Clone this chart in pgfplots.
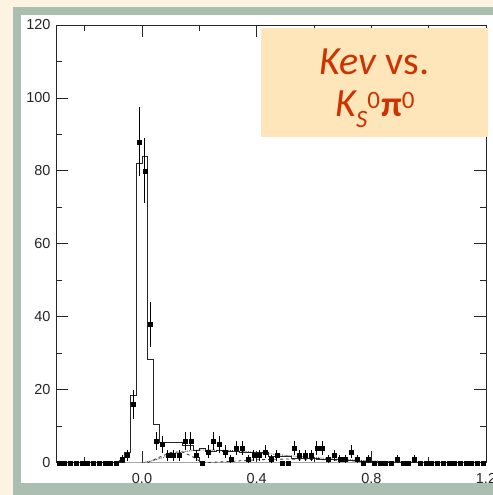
\documentclass[border=0pt]{standalone}
\usepackage{pgfplots}
\usepackage{pgfplotstable}
\pgfplotsset{compat=1.18}
\usepackage{fontspec}
\setmainfont{Liberation Sans}
\newfontfamily\titlefont{Carlito}

\definecolor{cream}{HTML}{FDF3E2}
\definecolor{framegreen}{HTML}{AABFAF}
\definecolor{boxorange}{HTML}{FFE6BA}
\definecolor{titlered}{HTML}{CC3300}

% measured yields per 0.02 bin: centre, count, error
\pgfplotstableread{
x y e
-0.29 0 0
-0.27 0 0
-0.25 0 0
-0.23 0 0
-0.21 0 0
-0.19 0 0
-0.17 0 0
-0.15 0 0
-0.13 0 0
-0.11 0 0
-0.09 0 0
-0.07 1 1
-0.05 2 1.41
-0.03 16 4
-0.01 88 9.38
0.01 80 8.94
0.03 38 6.16
0.05 6 2.45
0.07 5 2.24
0.09 2 1.41
0.11 2 1.41
0.13 2 1.41
0.15 6 2.45
0.17 6 2.45
0.19 2 1.41
0.21 0 0
0.23 3 1.73
0.25 6 2.45
0.27 5 2.24
0.29 3 1.73
0.31 1 1
0.33 4 2
0.35 4 2
0.37 1 1
0.39 2 1.41
0.41 2 1.41
0.43 3 1.73
0.45 1 1
0.47 2 1.41
0.49 0 0
0.51 0 0
0.53 4 2
0.55 2 1.41
0.57 2 1.41
0.59 2 1.41
0.61 4 2
0.63 4 2
0.65 1 1
0.67 2 1.41
0.69 1 1
0.71 1 1
0.73 3 1.73
0.75 1 1
0.77 0 0
0.79 1 1
0.81 0 0
0.83 0 0
0.85 0 0
0.87 0 0
0.89 1 1
0.91 0 0
0.93 0 0
0.95 1 1
0.97 0 0
0.99 0 0
1.01 0 0
1.03 0 0
1.05 0 0
1.07 0 0
1.09 0 0
1.11 0 0
1.13 0 0
1.15 0 0
1.17 0 0
1.19 0 0
}\datatable

% total fit, value per bin (left edge)
\pgfplotstableread{
x y
-0.30 0
-0.08 0.5
-0.06 2.7
-0.04 18.4
-0.02 82
0.00 84
0.02 28.4
0.04 10.5
0.06 5.5
0.08 5.5
0.10 5.5
0.12 5.5
0.14 4.8
0.16 4.8
0.18 3.5
0.20 3.9
0.22 3.0
0.24 3.0
0.26 3.5
0.28 3.2
0.30 3.0
0.32 3.0
0.34 2.8
0.36 2.8
0.38 2.7
0.40 2.7
0.42 2.7
0.44 1.8
0.46 1.8
0.48 1.8
0.50 1.8
0.52 1.2
0.54 1.2
0.56 1.2
0.58 1.2
0.60 1.2
0.62 0.8
0.64 0.8
0.66 0.8
0.68 0.8
0.70 0.6
0.72 0.6
0.74 0.6
0.76 0.3
0.78 0.3
0.80 0.2
0.90 0.2
1.00 0
1.20 0
}\fittable

\begin{document}
\begin{tikzpicture}[x=1bp,y=1bp]
\useasboundingbox (0,0) rectangle (493,495);
\fill[cream] (0,0) rectangle (493,495);
\fill[framegreen] (12.7,0) rectangle (493,488.3);
\fill[white] (20.7,12.3) rectangle (493,480);
\begin{axis}[
  at={(56bp,32.3bp)}, anchor=south west,
  scale only axis, width=430bp, height=437.7bp,
  xmin=-0.3, xmax=1.2, ymin=0, ymax=120,
  xtick={0,0.4,0.8,1.2}, minor xtick={-0.2,0.2,0.6,1.0},
  ytick={0,20,...,120}, minor ytick={10,30,...,110},
  x tick label style={/pgf/number format/fixed, /pgf/number format/fixed zerofill,
    /pgf/number format/precision=1, yshift=-7bp},
  y tick label style={xshift=-2bp},
  tick align=inside, major tick length=12bp, minor tick length=6bp,
  axis line style={black!85, line width=0.8bp},
  tick style={black!85, line width=0.8bp},
  tick label style={font=\fontsize{14.5bp}{17bp}\selectfont, text=black!85},
  /pgf/number format/assume math mode=true,
]
% component shapes
\addplot[gray!70, line width=1.2bp] coordinates {(-0.06,0.15) (0.78,0.15)};
\addplot[black!80, densely dotted, line width=0.8bp] coordinates {
  (0.0,0) (0.04,0.6) (0.08,1.6) (0.12,2.5) (0.16,3.2) (0.20,3.5) (0.30,3.4)
  (0.40,2.8) (0.50,2.0) (0.60,1.4) (0.70,0.9) (0.80,0.5) (0.90,0.2) (1.0,0.05) (1.2,0)};
\addplot[black!80, dashed, line width=0.8bp] coordinates {
  (0.02,0) (0.06,1.5) (0.10,2.8) (0.14,3.0) (0.18,1.5) (0.21,0) (0.30,0.3)
  (0.40,0.8) (0.50,1.0) (0.60,0.9) (0.70,0.6) (0.80,0.3) (0.90,0.1) (1.0,0)};
% total fit
\addplot[const plot, black!85, line width=0.8bp] table[x=x, y=y] {\fittable};
% data
\addplot[only marks, mark=square*, mark size=2bp, black,
  error bars/.cd, y dir=both, y explicit, error mark=none,
  error bar style={line width=0.8bp, black}]
  table[x=x, y=y, y error=e] {\datatable};
\end{axis}
\fill[boxorange] (261,358) rectangle (488,467);
\node[anchor=base, text=titlered, font=\titlefont\fontsize{40bp}{44bp}\selectfont, inner sep=0]
  at (374.5,420) {{\itshape Kev} vs.};
\node[anchor=base, text=titlered, font=\titlefont\fontsize{40bp}{44bp}\selectfont, inner sep=0]
  at (375,378) {{\itshape K}\raisebox{-11bp}{\fontsize{25bp}{25bp}\selectfont\itshape S}\raisebox{8bp}{\fontsize{25bp}{25bp}\selectfont 0}\kern1bp{\fontsize{36bp}{36bp}\selectfont\bfseries π}\raisebox{8bp}{\fontsize{25bp}{25bp}\selectfont 0}};
\end{tikzpicture}
\end{document}
